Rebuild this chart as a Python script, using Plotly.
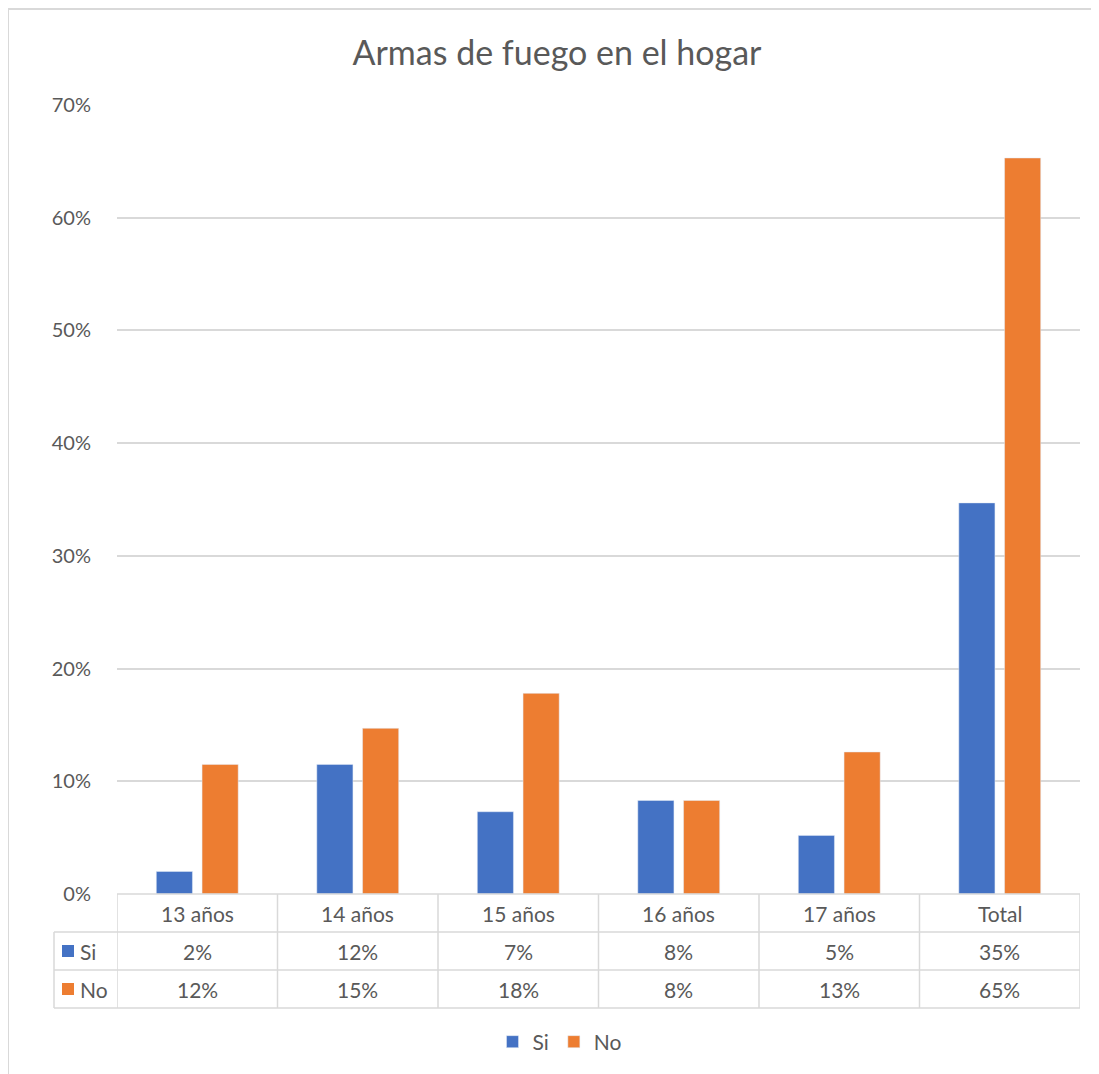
import plotly.graph_objs as go

# data
categories = ['13 años', '14 años', '15 años', '16 años', '17 años', 'Total']
si_values = [2.0, 11.5, 7.3, 8.3, 5.2, 34.7]
no_values = [11.5, 14.7, 17.8, 8.3, 12.6, 65.3]
si_labels = ['2%', '12%', '7%', '8%', '5%', '35%']
no_labels = ['12%', '15%', '18%', '8%', '13%', '65%']
y_ticks = [0, 10, 20, 30, 40, 50, 60, 70]

BLUE = '#4472C4'
ORANGE = '#ED7D31'
GRID = '#D9D9D9'
TEXT = '#595959'
FONT = 'Lato, Open Sans, sans-serif'

# page body margin shifts the figure by 8px
OFF = 8
W, H = 1099 - OFF, 1074 - OFF
L, R, T, B = 117 - OFF, 19, 105 - OFF, 180
PW, PH = W - L - R, H - T - B


def px(x):
    # reference pixel x -> paper x
    return (x - OFF - L) / PW


def py_(y):
    # reference pixel y -> paper y
    return (H - B - (y - OFF)) / PH


fig = go.Figure()
fig.add_trace(go.Bar(x=categories, y=si_values, name='Si', marker_color=BLUE))
fig.add_trace(go.Bar(x=categories, y=no_values, name='No', marker_color=ORANGE))

# data table under the chart
row_tops = [894, 932, 970, 1008]
row_mid = [913, 951, 989]
line_style = dict(color=GRID, width=1.5)
shapes = []
shapes.append(dict(type='line', xref='paper', yref='paper', x0=px(117), x1=px(1080),
                   y0=py_(894), y1=py_(894), line=line_style))
for yy in row_tops[1:]:
    shapes.append(dict(type='line', xref='paper', yref='paper', x0=px(54), x1=px(1080),
                       y0=py_(yy), y1=py_(yy), line=line_style))
shapes.append(dict(type='line', xref='paper', yref='paper', x0=px(54), x1=px(54),
                   y0=py_(932), y1=py_(1008), line=line_style))
for i in range(len(categories) + 1):
    shapes.append(dict(type='line', xref='x', yref='paper', x0=i - 0.5, x1=i - 0.5,
                       y0=py_(894), y1=py_(1008), line=line_style))
# legend keys inside the table
for yy, col in zip(row_mid[1:], [BLUE, ORANGE]):
    shapes.append(dict(type='rect', xref='paper', yref='paper', x0=px(62), x1=px(74),
                       y0=py_(yy + 6), y1=py_(yy - 6), line=dict(width=0), fillcolor=col))
# chart area border
shapes.append(dict(type='line', xref='paper', yref='paper', x0=px(8), x1=px(8),
                   y0=py_(9), y1=py_(1074), line=dict(color=GRID, width=2)))
shapes.append(dict(type='line', xref='paper', yref='paper', x0=px(8), x1=px(1099),
                   y0=py_(9), y1=py_(9), line=dict(color=GRID, width=2)))

annotations = []
for i, cat in enumerate(categories):
    for txt, yy in zip([cat, si_labels[i], no_labels[i]], row_mid):
        annotations.append(dict(x=i, y=py_(yy), xref='x', yref='paper', text=txt,
                                xanchor='center', yanchor='middle', showarrow=False,
                                font=dict(size=21, color=TEXT, family=FONT)))
for txt, yy in zip(['Si', 'No'], row_mid[1:]):
    annotations.append(dict(x=px(78), y=py_(yy), xref='paper', yref='paper', text=txt,
                            xanchor='left', yanchor='middle', showarrow=False,
                            font=dict(size=21, color=TEXT, family=FONT)))

fig.update_layout(
    width=W, height=H,
    margin=dict(l=L, r=R, t=T, b=B),
    paper_bgcolor='white', plot_bgcolor='white',
    title=dict(text='Armas de fuego en el hogar', xref='container',
               x=(557 - OFF) / W, xanchor='center',
               yref='container', y=1 - (53 - OFF) / H, yanchor='middle',
               font=dict(size=34, color=TEXT, family=FONT)),
    font=dict(family=FONT, color=TEXT, size=20),
    barmode='group', bargap=0.43, bargroupgap=0.21,
    xaxis=dict(range=[-0.5, 5.5], showticklabels=False, showgrid=False,
               showline=False, zeroline=False),
    yaxis=dict(range=[0, 70], tickmode='array', tickvals=y_ticks,
               ticktext=[f'{v}%' for v in y_ticks],
               showgrid=True, gridcolor=GRID, gridwidth=1.5,
               zeroline=False, showline=False, ticklabelstandoff=25,
               tickfont=dict(size=20, color=TEXT, family=FONT)),
    legend=dict(orientation='h', x=px(560), xanchor='center', y=py_(1042),
                yanchor='middle', font=dict(size=21, color=TEXT, family=FONT),
                itemwidth=30, traceorder='normal'),
    shapes=shapes,
    annotations=annotations,
)

fig.write_html('out.html')
